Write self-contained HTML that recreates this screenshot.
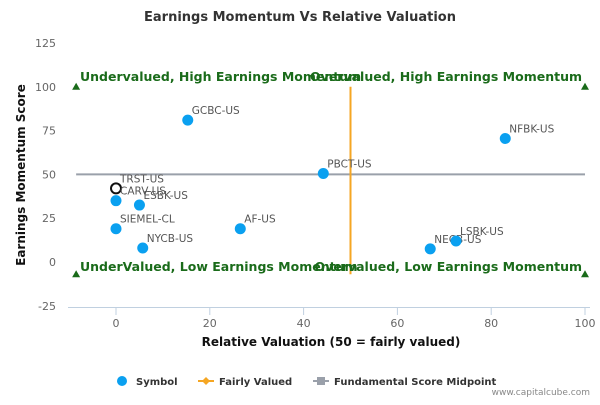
<!DOCTYPE html>
<html><head><meta charset="utf-8"><style>
body{margin:0;background:#fff;font-family:"Liberation Sans","DejaVu Sans",sans-serif}
svg text{font-family:"DejaVu Sans","Liberation Sans",sans-serif}
</style></head><body>
<svg id="c" width="600" height="400" xmlns="http://www.w3.org/2000/svg">
<text x="300" y="21" text-anchor="middle" font-size="13" font-weight="bold" fill="#333">Earnings Momentum Vs Relative Valuation</text>
<g id="axes"></g><g id="marks"></g>
<text x="331" y="346" text-anchor="middle" font-size="12" font-weight="bold" fill="#111">Relative Valuation (50 = fairly valued)</text>
<text transform="translate(25,175) rotate(-90)" text-anchor="middle" font-size="12" font-weight="bold" fill="#111">Earnings Momentum Score</text>
<g font-size="10" font-weight="bold" fill="#333">
<g><circle cx="122" cy="381" r="5" fill="#0aa0f0"/><text x="136" y="385">Symbol</text></g>
<g><line x1="198" y1="381" x2="214" y2="381" stroke="#f5a623" stroke-width="2"/><path d="M206 377 L210 381 L206 385 L202 381Z" fill="#f5a623"/><text x="219" y="385">Fairly Valued</text></g>
<g><line x1="313" y1="381" x2="329" y2="381" stroke="#9aa0aa" stroke-width="2"/><rect x="317" y="377" width="8" height="8" fill="#9aa0aa"/><text x="334" y="385">Fundamental Score Midpoint</text></g>
</g>
<text x="590" y="395" text-anchor="end" font-size="9" fill="#888">www.capitalcube.com</text>
</svg>
<script>
const names=["GCBC-US","NFBK-US","PBCT-US","TRST-US","CARV-US","ESBK-US","SIEMEL-CL","AF-US","NYCB-US","NECB-US","LSBK-US"];
const valuation=[15.3,83,44.2,0,0,5,0,26.5,5.7,67,72.5];
const momentum=[81,70.5,50.5,42,35,32.5,19,19,8,7.5,12];
const xTicks=[0,20,40,60,80,100];
const yTicks=[125,100,75,50,25,0,-25];
const fairValue=50, midpoint=50;
const X=v=>116+v*4.69, Y=v=>262-v*1.752;
const NS="http://www.w3.org/2000/svg";
const ax=document.getElementById('axes'), mk=document.getElementById('marks');
function el(p,t,a,txt){const e=document.createElementNS(NS,t);for(const k in a)e.setAttribute(k,a[k]);if(txt!==undefined)e.textContent=txt;p.appendChild(e);return e;}
let a=el(ax,'line',{x1:68,y1:307.5,x2:590,y2:307.5,stroke:'#c0d0e0'});


xTicks.forEach(t=>{
 let l=el(ax,'line',{x1:X(t),y1:307,x2:X(t),y2:315,stroke:'#c0d0e0'});
 
 
 let tx=el(ax,'text',{x:X(t),y:327,'text-anchor':'middle','font-size':11,fill:'#666'},t);
 
 
});
yTicks.forEach(t=>{
 let tx=el(ax,'text',{x:56,y:Y(t)+4,'text-anchor':'end','font-size':11,fill:'#666'},t);
 
 
});
let g=el(mk,'line',{x1:X(-8.5),y1:Y(midpoint),x2:X(100),y2:Y(midpoint),stroke:'#9aa0aa','stroke-width':2});


let o=el(mk,'line',{x1:X(fairValue),y1:Y(100),x2:X(fairValue),y2:Y(-7),stroke:'#f5a623','stroke-width':2});


[[-8.5,100],[-8.5,-7],[100,100],[100,-7]].forEach(p=>{
 let t=el(mk,'path',{d:`M${X(p[0])} ${Y(p[1])-4} L${X(p[0])+4} ${Y(p[1])+3} L${X(p[0])-4} ${Y(p[1])+3}Z`,fill:'#1a6b1a'});
 
 
});
[["Undervalued, High Earnings Momentum",80,81,'start'],["Overvalued, High Earnings Momentum",582,81,'end'],["UnderValued, Low Earnings Momentum",80,271,'start'],["Overvalued, Low Earnings Momentum",582,271,'end']].forEach(q=>{
 let t=el(mk,'text',{x:q[1],y:q[2],'text-anchor':q[3],'font-size':12.5,'font-weight':'bold',fill:'#1a6b1a'},q[0]);
 
 
});
names.forEach((n,i)=>{
 const cx=X(valuation[i]),cy=Y(momentum[i]);
 let c=el(mk,'circle',n==="TRST-US"?{cx,cy,r:5,fill:'#fff',stroke:'#111','stroke-width':2}:{cx,cy,r:5.5,fill:'#0aa0f0'});
 
 
 let t=el(mk,'text',{x:cx+4,y:cy-6,'font-size':10.5,fill:'#555'},n);
 
 
});
</script>
</body></html>
